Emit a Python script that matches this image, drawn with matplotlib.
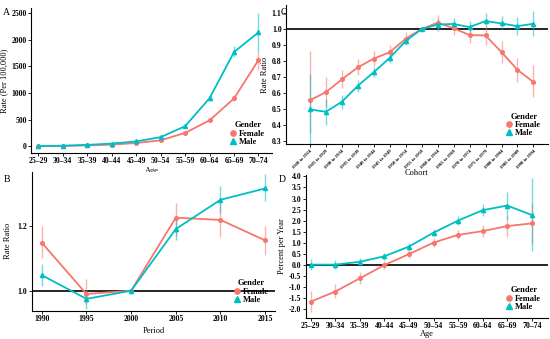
import matplotlib.pyplot as plt
import numpy as np

plt.rcParams['font.family'] = ['Liberation Serif', 'DejaVu Serif']
plt.rcParams['font.weight'] = 'bold'

female_c = '#F8766D'
male_c = '#00BFC4'

# A: age-specific rates
ages = ['25\u201329', '30\u201334', '35\u201339', '40\u201344', '45\u201349',
        '50\u201354', '55\u201359', '60\u201364', '65\u201369', '70\u201374']
a_fem = [5, 10, 20, 35, 65, 115, 255, 490, 900, 1620]
a_fem_lo = [3, 7, 15, 28, 55, 100, 235, 460, 850, 1440]
a_fem_hi = [8, 14, 26, 42, 76, 130, 275, 520, 960, 1780]
a_mal = [10, 15, 30, 55, 95, 175, 380, 905, 1770, 2140]
a_mal_lo = [7, 11, 24, 46, 84, 160, 355, 860, 1680, 1780]
a_mal_hi = [14, 20, 37, 64, 107, 192, 405, 955, 1890, 2500]

# B: period rate ratios
periods = [1990, 1995, 2000, 2005, 2010, 2015]
b_fem = [1.148, 0.990, 1.0, 1.225, 1.218, 1.155]
b_fem_lo = [1.100, 0.960, 0.998, 1.170, 1.165, 1.110]
b_fem_hi = [1.198, 1.035, 1.002, 1.270, 1.270, 1.200]
b_mal = [1.048, 0.975, 1.0, 1.190, 1.280, 1.315]
b_mal_lo = [1.015, 0.945, 0.998, 1.155, 1.240, 1.275]
b_mal_hi = [1.082, 1.003, 1.002, 1.222, 1.322, 1.358]

# C: cohort rate ratios
cohorts = ['1920 to 1924', '1925 to 1929', '1930 to 1934', '1935 to 1939',
           '1940 to 1944', '1945 to 1949', '1950 to 1954', '1955 to 1959',
           '1960 to 1964', '1965 to 1969', '1970 to 1974', '1975 to 1979',
           '1980 to 1984', '1985 to 1989', '1990 to 1994']
c_fem = [0.555, 0.605, 0.685, 0.760, 0.815, 0.855, 0.940, 1.0,
         1.040, 1.005, 0.962, 0.960, 0.855, 0.745, 0.668]
c_fem_lo = [0.35, 0.51, 0.63, 0.71, 0.77, 0.82, 0.91, 0.99,
            1.00, 0.96, 0.91, 0.90, 0.79, 0.67, 0.575]
c_fem_hi = [0.86, 0.70, 0.745, 0.81, 0.86, 0.90, 0.98, 1.01,
            1.085, 1.05, 1.01, 1.02, 0.925, 0.82, 0.775]
c_mal = [0.497, 0.482, 0.545, 0.645, 0.730, 0.820, 0.925, 1.0,
         1.028, 1.032, 1.012, 1.050, 1.035, 1.018, 1.033]
c_mal_lo = [0.28, 0.40, 0.50, 0.605, 0.70, 0.79, 0.90, 0.99,
            0.99, 1.00, 0.98, 1.01, 1.00, 0.965, 0.955]
c_mal_hi = [0.72, 0.565, 0.59, 0.68, 0.76, 0.85, 0.95, 1.01,
            1.06, 1.07, 1.05, 1.10, 1.08, 1.075, 1.115]

# D: local drifts
d_fem = [-1.68, -1.22, -0.62, -0.02, 0.48, 1.00, 1.35, 1.52, 1.75, 1.87]
d_fem_lo = [-2.15, -1.50, -0.90, -0.20, 0.30, 0.80, 1.15, 1.25, 1.25, 0.95]
d_fem_hi = [-1.20, -0.90, -0.35, 0.15, 0.70, 1.20, 1.55, 1.80, 2.20, 2.80]
d_mal = [0.00, 0.00, 0.13, 0.38, 0.82, 1.45, 2.00, 2.47, 2.68, 2.25]
d_mal_lo = [-0.25, -0.20, -0.05, 0.20, 0.65, 1.30, 1.80, 2.20, 2.05, 0.60]
d_mal_hi = [0.25, 0.20, 0.30, 0.55, 1.00, 1.60, 2.20, 2.75, 3.30, 3.95]

TICK = 5.6
LAB = 6.0


def draw(ax, x, fem, flo, fhi, mal, mlo, mhi):
    ax.vlines(x, flo, fhi, color=female_c, lw=1.0, alpha=0.55, zorder=2)
    ax.vlines(x, mlo, mhi, color=male_c, lw=1.0, alpha=0.55, zorder=2)
    ax.plot(x, fem, color=female_c, lw=1.3, marker='o', ms=2.6, label='Female', zorder=3)
    ax.plot(x, mal, color=male_c, lw=1.3, marker='^', ms=3.0, label='Male', zorder=3)
    for s in ['top', 'right']:
        ax.spines[s].set_visible(False)
    ax.spines['left'].set_linewidth(0.8)
    ax.spines['bottom'].set_linewidth(0.8)
    ax.tick_params(labelsize=TICK, length=2, width=0.6, pad=1.2)
    leg = ax.legend(title='Gender', loc='lower right', frameon=False, fontsize=LAB,
                    title_fontsize=LAB, handlelength=0.6, handletextpad=0.4,
                    labelspacing=0.05, borderaxespad=0.4)
    for h in leg.legend_handles:
        h.set_linestyle('none')
        h.set_markersize(3.8)
    leg.get_title().set_fontweight('bold')


fig = plt.figure(figsize=(5.5, 3.39), dpi=100)

axA = fig.add_axes([0.0564, 0.549, 0.438, 0.428])
ix = np.arange(len(ages))
draw(axA, ix, a_fem, a_fem_lo, a_fem_hi, a_mal, a_mal_lo, a_mal_hi)
axA.set_xticks(ix)
axA.set_xticklabels(ages)
axA.set_xlim(-0.3, 9.55)
axA.set_ylim(-120, 2600)
axA.set_yticks([0, 500, 1000, 1500, 2000, 2500])
axA.set_xlabel('Age', fontsize=LAB, labelpad=1)
axA.set_ylabel('Rate (Per 100,000)', fontsize=LAB, labelpad=2)

axB = fig.add_axes([0.058, 0.083, 0.442, 0.41])
draw(axB, periods, b_fem, b_fem_lo, b_fem_hi, b_mal, b_mal_lo, b_mal_hi)
axB.axhline(1.0, color='black', lw=1.2, zorder=1)
axB.set_xticks(periods)
axB.set_xlim(1988.9, 2016.1)
axB.set_ylim(0.938, 1.366)
axB.set_yticks([1.0, 1.2])
axB.set_yticklabels(['1.0', '1.2'])
axB.set_xlabel('Period', fontsize=LAB, labelpad=3)
axB.set_ylabel('Rate Ratio', fontsize=LAB, labelpad=4)

axC = fig.add_axes([0.52, 0.575, 0.476, 0.41])
cx = np.arange(len(cohorts))
draw(axC, cx, c_fem, c_fem_lo, c_fem_hi, c_mal, c_mal_lo, c_mal_hi)
axC.axhline(1.0, color='black', lw=1.2, zorder=1)
axC.set_xticks(cx)
axC.set_xticklabels(cohorts, rotation=45, ha='right', fontsize=3.4, rotation_mode='anchor')
axC.set_xlim(-1.5, 14.9)
axC.set_ylim(0.28, 1.15)
axC.set_yticks(np.arange(0.3, 1.11, 0.1))
axC.set_yticklabels(['%.1f' % v for v in np.arange(0.3, 1.11, 0.1)])
axC.set_xlabel('Cohort', fontsize=LAB, labelpad=0)
axC.set_ylabel('Rate Ratio', fontsize=LAB, labelpad=2)

axD = fig.add_axes([0.556, 0.062, 0.44, 0.422])
draw(axD, ix, d_fem, d_fem_lo, d_fem_hi, d_mal, d_mal_lo, d_mal_hi)
axD.axhline(0.0, color='black', lw=1.2, zorder=1)
axD.set_xticks(ix)
axD.set_xticklabels(ages)
axD.set_xlim(-0.2, 9.65)
axD.set_ylim(-2.42, 4.07)
axD.set_yticks(np.arange(-2.0, 4.01, 0.5))
axD.set_yticklabels(['%.1f' % v for v in np.arange(-2.0, 4.01, 0.5)])
axD.set_xlabel('Age', fontsize=LAB, labelpad=0)
axD.set_ylabel('Percent per Year', fontsize=LAB, labelpad=2)

fig.text(0.006, 0.955, 'A', fontsize=7, fontweight='normal')
fig.text(0.51, 0.955, 'C', fontsize=7, fontweight='normal')
fig.text(0.006, 0.463, 'B', fontsize=7, fontweight='normal')
fig.text(0.507, 0.463, 'D', fontsize=7, fontweight='normal')

fig.savefig('out.png', dpi=100)
